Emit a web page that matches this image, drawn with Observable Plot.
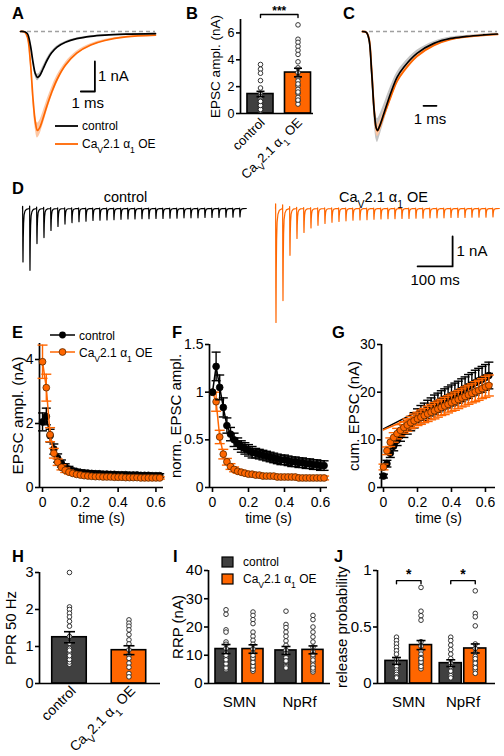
<!DOCTYPE html>
<html><head><meta charset="utf-8">
<script src="https://cdn.jsdelivr.net/npm/d3@7"></script>
<script src="https://cdn.jsdelivr.net/npm/@observablehq/plot@0.6"></script>
<style>
html,body{margin:0;padding:0;background:#fff;}
#root{position:relative;width:504px;height:756px;overflow:hidden;font-family:"Liberation Sans",Arial,sans-serif;}
</style></head><body><div id="root"></div>
<script>
// ---------------- DATA ----------------
const groups = ["control", "Ca_V2.1 α_1 OE"];
const regions = ["SMN", "NpRf"];
const stimTimes = [0,0.02,0.04,0.06,0.08,0.1,0.12,0.14,0.16,0.18,0.2,0.22,0.24,0.26,0.28,0.3,0.32,0.34,0.36,0.38,0.4,0.42,0.44,0.46,0.48,0.5,0.52,0.54,0.56,0.58,0.6,0.62];
const timeTicks = [0, 0.2, 0.4, 0.6];

// A: average EPSC (ms, nA)
const aTime = [0,0.3,0.5,0.7,0.9,1.05,1.2,1.35,1.6,1.9,2.2,2.6,3.2,4,5,6,7.5,9.6];
const aCtrl = [0,-0.01,-0.08,-0.45,-1.05,-1.4,-1.53,-1.48,-1.25,-0.95,-0.72,-0.52,-0.36,-0.24,-0.16,-0.12,-0.09,-0.07];
const aCtrlSem = [0,0,0.01,0.04,0.08,0.1,0.11,0.1,0.09,0.07,0.05,0.04,0.03,0.02,0.015,0.01,0.01,0.01];
const aOE = [0,-0.02,-0.2,-1.0,-2.3,-3.0,-3.3,-3.22,-2.9,-2.45,-2.05,-1.6,-1.12,-0.72,-0.45,-0.3,-0.18,-0.12];
const aOESem = [0,0,0.02,0.1,0.2,0.24,0.25,0.24,0.22,0.19,0.16,0.13,0.09,0.06,0.04,0.03,0.02,0.02];

// B: EPSC amplitude (nA)
const bMeans = [1.45, 3.05];
const bSem = [0.2, 0.32];
const bCtrlPts = [3.65,3.3,3.0,2.45,1.9,1.45,1.25,1.1,0.95,0.8,0.65,0.5,0.35,0.2,0.3,0.6,0.9];
const bOEPts = [6.6,5.53,5.3,5.0,4.7,4.4,3.85,3.4,3.05,2.7,2.43,2.06,1.8,1.5,1.2,0.95,0.7,1.0,1.6,2.2];

// C: normalized EPSC
const cTime = [0,0.3,0.5,0.7,0.9,1.05,1.15,1.3,1.64,2.15,2.67,3.18,4.2,5.5,6.8,8.0,9.3,10.4];
const cCtrl = [0,-0.01,-0.08,-0.4,-0.8,-0.97,-1.0,-0.96,-0.83,-0.63,-0.46,-0.36,-0.22,-0.12,-0.07,-0.05,-0.035,-0.025];
const cCtrlSem = [0,0,0.02,0.06,0.1,0.12,0.12,0.11,0.09,0.07,0.05,0.04,0.03,0.02,0.015,0.01,0.01,0.01];
const cOE = [0,-0.01,-0.07,-0.38,-0.79,-0.97,-1.0,-0.97,-0.85,-0.67,-0.5,-0.4,-0.25,-0.14,-0.08,-0.055,-0.04,-0.03];
const cOESem = [0,0,0.01,0.03,0.05,0.06,0.06,0.06,0.05,0.04,0.03,0.02,0.02,0.01,0.01,0.01,0.01,0.01];

// D: example 50 Hz trains (peak amplitudes, nA) and EPSC waveform (ms, normalized)
const dCtrlAmps = [1.78,2.06,1.17,0.97,0.73,0.6,0.52,0.47,0.44,0.42,0.4,0.39,0.38,0.37,0.36,0.35,0.35,0.34,0.34,0.33,0.33,0.32,0.32,0.31,0.31,0.31,0.3,0.3,0.3,0.29,0.29,0.28];
const dOEAmps = [3.8,3.07,1.56,1.0,0.8,0.65,0.56,0.5,0.46,0.43,0.41,0.39,0.38,0.37,0.36,0.35,0.34,0.34,0.33,0.33,0.32,0.32,0.31,0.31,0.31,0.3,0.3,0.3,0.29,0.29,0.29,0.28];
const epscT = [0,0.4,0.9,1.4,2.2,3.2,4.6,7,11,19.5];
const epscV = [0,0.04,-0.7,-1,-0.55,-0.28,-0.12,-0.05,-0.015,0];

// E: EPSC amplitude during train (nA)
const eCtrl = [2.05,2.22,1.62,1.2,0.92,0.75,0.64,0.57,0.52,0.49,0.47,0.46,0.45,0.44,0.43,0.43,0.42,0.42,0.41,0.41,0.40,0.40,0.40,0.39,0.39,0.39,0.38,0.38,0.38,0.37,0.37,0.37];
const eCtrlSem = [0.28,0.26,0.2,0.16,0.13,0.11,0.1,0.09,0.08,0.08,0.07,0.07,0.07,0.07,0.07,0.06,0.06,0.06,0.06,0.06,0.06,0.06,0.06,0.06,0.06,0.06,0.06,0.06,0.06,0.06,0.06,0.06];
const eOE = [3.93,3.12,1.65,1.07,0.79,0.63,0.54,0.48,0.44,0.41,0.39,0.37,0.36,0.35,0.34,0.34,0.33,0.33,0.33,0.32,0.32,0.32,0.31,0.31,0.31,0.31,0.30,0.30,0.30,0.30,0.30,0.30];
const eOESem = [0.52,0.42,0.22,0.15,0.1,0.08,0.07,0.06,0.05,0.05,0.04,0.04,0.04,0.04,0.04,0.04,0.04,0.04,0.04,0.04,0.04,0.04,0.04,0.04,0.04,0.04,0.04,0.04,0.04,0.04,0.04,0.04];

// F: normalized EPSC amplitude
const fCtrl = [1.0,1.27,1.05,0.84,0.65,0.56,0.5,0.46,0.43,0.41,0.39,0.37,0.36,0.35,0.34,0.33,0.32,0.31,0.30,0.29,0.29,0.28,0.27,0.27,0.26,0.26,0.25,0.25,0.24,0.24,0.23,0.23];
const fCtrlSem = [0,0.15,0.13,0.1,0.08,0.07,0.07,0.06,0.06,0.06,0.06,0.06,0.05,0.05,0.05,0.05,0.05,0.05,0.05,0.05,0.05,0.05,0.05,0.05,0.05,0.05,0.05,0.05,0.05,0.05,0.05,0.05];
const fOE = [1.0,0.9,0.53,0.35,0.27,0.22,0.19,0.17,0.16,0.15,0.14,0.14,0.13,0.13,0.12,0.12,0.12,0.12,0.11,0.11,0.11,0.11,0.11,0.11,0.10,0.10,0.10,0.10,0.10,0.10,0.10,0.10];
const fOESem = [0,0.1,0.07,0.05,0.035,0.03,0.025,0.02,0.02,0.02,0.02,0.02,0.02,0.02,0.02,0.02,0.02,0.02,0.02,0.02,0.02,0.02,0.02,0.02,0.02,0.02,0.02,0.02,0.02,0.02,0.02,0.02];

// G: cumulative EPSC (nA) and back-extrapolated linear fits
const gCtrl = [2.4,5.0,7.2,8.7,9.9,10.9,11.8,12.6,13.4,14.1,14.8,15.4,15.9,16.4,16.9,17.4,17.8,18.2,18.6,18.9,19.3,19.6,20.0,20.4,20.8,21.2,21.6,22.0,22.4,22.7,23.1,23.5];
const gCtrlSem = [0.4,0.7,0.9,1.0,1.1,1.2,1.3,1.4,1.5,1.6,1.7,1.8,1.8,1.9,1.9,2.0,2.0,2.1,2.1,2.2,2.2,2.3,2.3,2.4,2.4,2.5,2.5,2.6,2.6,2.7,2.7,2.8];
const gOE = [4.3,7.7,9.5,10.5,11.3,12.0,12.6,13.1,13.6,14.0,14.4,14.75,15.1,15.45,15.8,16.1,16.45,16.8,17.1,17.45,17.8,18.1,18.45,18.8,19.1,19.45,19.75,20.1,20.4,20.75,21.1,21.4];
const gOESem = [0.6,0.8,0.9,1.0,1.1,1.2,1.2,1.3,1.3,1.4,1.4,1.5,1.5,1.6,1.6,1.7,1.7,1.7,1.8,1.8,1.8,1.9,1.9,1.9,2.0,2.0,2.0,2.1,2.1,2.1,2.2,2.2];
const gFitIntercept = [12.3, 12.1];
const gFitSlope = [18.2, 15.0];
const gFitRange = [0, 0.64];

// H: paired-pulse ratio
const hMeans = [1.25, 0.9];
const hSem = [0.15, 0.12];
const hCtrlPts = [3.0,2.07,2.0,1.9,1.8,1.68,1.55,1.27,1.09,0.95,0.82,0.71,0.61,0.52,0.58,0.65,0.75,0.9];
const hOEPts = [1.72,1.63,1.55,1.45,1.32,1.18,1.07,0.91,0.77,0.68,0.55,0.44,0.27,0.18];

// I: RRP (nA)   order: SMN ctrl, SMN OE, NpRf ctrl, NpRf OE
const iMeans = [12.2, 12.2, 11.7, 11.9];
const iSem = [1.6, 1.5, 1.4, 1.4];
const iSMNCtrlPts = [26.1,24.5,19.0,18.2,14.7,13.9,12.4,10.8,9.2,7.6,6.1,4.9,5.5,7.0,8.4,10.0];
const iSMNOEPts = [25.3,24.1,22.6,21.2,18.2,16.7,15.3,13.9,12.2,10.8,9.4,8.2,6.8,5.6,4.4,5.0,6.2,7.5,9.0,10.0];
const iNpRfCtrlPts = [25.6,20.9,19.8,18.2,16.7,15.1,13.5,11.8,10,8.5,7.1,5.9,6.5,7.8,9.2,10.6,6.0,5.5,8.0];
const iNpRfOEPts = [24.1,22.6,20.0,18.2,16.5,14.7,12.9,11.2,9.4,7.6,5.9,4.1,4.8,6.5,8.3,10.2,5.5];

// J: release probability
const jMeans = [0.2, 0.34, 0.18, 0.31];
const jSem = [0.03, 0.04, 0.03, 0.04];
const jSMNCtrlPts = [0.41,0.38,0.35,0.32,0.29,0.26,0.22,0.18,0.15,0.12,0.1,0.08,0.06,0.05];
const jSMNOEPts = [0.85,0.64,0.6,0.56,0.37,0.33,0.29,0.26,0.23,0.2,0.17,0.13,0.15,0.19,0.22];
const jNpRfCtrlPts = [0.41,0.38,0.34,0.3,0.26,0.22,0.18,0.13,0.09,0.06,0.07,0.11,0.15,0.05];
const jNpRfOEPts = [0.82,0.62,0.59,0.51,0.35,0.31,0.27,0.24,0.2,0.16,0.12,0.09,0.14,0.18,0.22];

// significance annotations
const bSig = [{a: 0, b: 1, y: 7.37, label: "***"}];
const jSig = [{g: 0, y: 0.91, label: "*"}, {g: 1, y: 0.91, label: "*"}];

// scale bars
const sbA = {t: 5.29, a: -2, dt: 1, da: 1};
const sbC = {t: 5.7, a: -0.75, dt: 1};
const sbD = {t: 506, a: -1.93, dt: 100, da: 1};

// ---------------- HELPERS ----------------
const FONT = '"Liberation Sans", Arial, Helvetica, sans-serif';
const ORANGE = "#ff6600";
const DARK = "#404040";
const NS = "http://www.w3.org/2000/svg";
const root = document.getElementById("root");
const capSymbol = {draw(ctx, size) { const w = Math.sqrt(size / Math.PI); ctx.moveTo(-w, 0); ctx.lineTo(w, 0); }};

function subify(node) {
  node.querySelectorAll("text, tspan").forEach(el => {
    if (el.children.length) return;
    const s = el.textContent;
    if (!s || s.indexOf("_") < 0) return;
    el.textContent = "";
    s.split(/(_.)/).filter(p => p.length).forEach(p => {
      const ts = document.createElementNS(NS, "tspan");
      if (p[0] === "_") { ts.textContent = p.slice(1); ts.setAttribute("font-size", "72%"); ts.setAttribute("baseline-shift", "sub"); }
      else ts.textContent = p;
      el.appendChild(ts);
    });
  });
}

function panel(frame, pad, opts) {
  const [x0, y0, x1, y1] = frame, [l, t, r, b] = pad;
  const svg = Plot.plot({
    ...opts,
    x: {axis: null, ...opts.x}, y: {axis: null, ...opts.y},
    width: x1 - x0 + l + r, height: y1 - y0 + t + b,
    marginLeft: l, marginTop: t, marginRight: r, marginBottom: b,
    style: {fontFamily: FONT, fontSize: "14px", color: "black", background: "none", overflow: "visible"}
  });
  svg.style.position = "absolute";
  svg.style.left = (x0 - l) + "px";
  svg.style.top = (y0 - t) + "px";
  svg.style.maxWidth = "none";
  subify(svg);
  root.appendChild(svg);
  return svg;
}

const fmt = d => String(d);
const axY = (ticks, fs) => Plot.axisY({ticks, tickFormat: fmt, tickSize: 4, tickPadding: 2, strokeWidth: 1.6, fontSize: fs, label: null});
const axX = (ticks, fs) => Plot.axisX({ticks, tickFormat: fmt, tickSize: 5, tickPadding: 5, strokeWidth: 1.6, fontSize: fs, label: null});
const axisLines = xd => [Plot.ruleX([xd[0]], {strokeWidth: 1.7}), Plot.ruleY([0], {strokeWidth: 1.7})];
const yLabel = (s, dx, fs) => Plot.text([s], {frameAnchor: "left", rotate: -90, textAnchor: "middle", lineAnchor: "middle", dx, fontSize: fs});
const xLabel = (s, dy, fs) => Plot.text([s], {frameAnchor: "bottom", textAnchor: "middle", lineAnchor: "middle", dy, fontSize: fs});

function tsData(means, sems) { return stimTimes.map((t, i) => ({t, m: means[i], s: sems[i]})); }
function tsMarks(data, color, dotFill, dotStroke, withLine, capR) {
  const e = data.filter(d => d.s > 0);
  const m = [];
  if (withLine) m.push(Plot.line(data, {x: "t", y: "m", stroke: color, strokeWidth: 1.5}));
  m.push(Plot.ruleX(e, {x: "t", y1: d => d.m - d.s, y2: d => d.m + d.s, stroke: color, strokeWidth: 1.4}));
  m.push(Plot.dot(e, {x: "t", y: d => d.m + d.s, symbol: capSymbol, r: capR, stroke: color, fill: "none", strokeWidth: 1.4}));
  m.push(Plot.dot(e, {x: "t", y: d => d.m - d.s, symbol: capSymbol, r: capR, stroke: color, fill: "none", strokeWidth: 1.4}));
  m.push(Plot.dot(data, {x: "t", y: "m", r: 3.4, fill: dotFill, stroke: dotStroke, strokeWidth: 0.8}));
  return m;
}

function barMarks(bars, pts, hw, capR) {
  return [
    Plot.rect(bars.filter(d => d.c === 0), {x1: d => d.x - hw, x2: d => d.x + hw, y1: 0, y2: "mean", fill: DARK, stroke: "black", strokeWidth: 1.6}),
    Plot.rect(bars.filter(d => d.c === 1), {x1: d => d.x - hw, x2: d => d.x + hw, y1: 0, y2: "mean", fill: ORANGE, stroke: "black", strokeWidth: 1.6}),
    Plot.dot(pts, {x: "x", y: "v", r: 2.3, fill: "white", stroke: "#222", strokeWidth: 0.9}),
    Plot.ruleX(bars, {x: "x", y1: d => d.mean - d.sem, y2: d => d.mean + d.sem, strokeWidth: 1.6}),
    Plot.dot(bars, {x: "x", y: d => d.mean + d.sem, symbol: capSymbol, r: capR, stroke: "black", fill: "none", strokeWidth: 1.6}),
    Plot.dot(bars, {x: "x", y: d => d.mean - d.sem, symbol: capSymbol, r: capR, stroke: "black", fill: "none", strokeWidth: 1.6})
  ];
}
function ptsAt(x, vals) { return vals.map(v => ({x, v})); }
function bracket(id, xa, xb, y, tick) { return [{id, x: xa, y: y - tick}, {id, x: xa, y}, {id, x: xb, y}, {id, x: xb, y: y - tick}]; }
function traceData(ts, vs, sems) { return ts.map((t, i) => ({t, v: vs[i], s: sems[i]})); }
function trainTrace(amps) {
  const out = [];
  amps.forEach((a, i) => epscT.forEach((tt, j) => out.push({t: stimTimes[i] * 1000 + tt, v: a * epscV[j]})));
  return out;
}

// ---------------- A ----------------
{
  const ctrl = traceData(aTime, aCtrl, aCtrlSem), oe = traceData(aTime, aOE, aOESem);
  const sb = [{x: sbA.t - sbA.dt, y: sbA.a}, {x: sbA.t, y: sbA.a}, {x: sbA.t, y: sbA.a + sbA.da}];
  panel([20, 31, 155, 133], [20, 20, 20, 20], {
    x: {domain: [0, 9.6]}, y: {domain: [-3.4, 0]},
    marks: [
      Plot.ruleY([0], {stroke: "#a0a0a0", strokeWidth: 1.3, strokeDasharray: "4,3"}),
      Plot.areaY(oe, {x: "t", y1: d => d.v - d.s, y2: d => d.v + d.s, fill: "#fdc7a4", curve: "catmull-rom"}),
      Plot.areaY(ctrl, {x: "t", y1: d => d.v - d.s, y2: d => d.v + d.s, fill: "#bdbdbd", curve: "catmull-rom"}),
      Plot.line(oe, {x: "t", y: "v", stroke: ORANGE, strokeWidth: 1.7, curve: "catmull-rom"}),
      Plot.line(ctrl, {x: "t", y: "v", stroke: "black", strokeWidth: 1.7, curve: "catmull-rom"}),
      Plot.line(sb, {x: "x", y: "y", stroke: "black", strokeWidth: 1.8}),
      Plot.text([sbA], {x: d => d.t, y: d => d.a + d.da / 2, text: () => "1 nA", textAnchor: "start", dx: 3, fontSize: 15}),
      Plot.text([sbA], {x: d => d.t - d.dt / 2, y: d => d.a, text: () => "1 ms", dy: 12, fontSize: 15})
    ]
  });
}

// ---------------- B ----------------
{
  const bars = bMeans.map((m, i) => ({x: i, c: i, mean: m, sem: bSem[i]}));
  const pts = [...ptsAt(0, bCtrlPts), ...ptsAt(1, bOEPts)];
  const br = bSig.flatMap((s, k) => bracket(k, s.a, s.b, s.y, 0.22));
  panel([240, 19, 313, 113], [55, 19, 10, 75], {
    x: {domain: [-0.533, 1.413]}, y: {domain: [0, 7]},
    marks: [
      ...barMarks(bars, pts, 0.347, 4),
      ...axisLines([-0.533]),
      axY([0, 2, 4, 6], 12.5),
      yLabel("EPSC ampl. (nA)", -25, 13.5),
      Plot.text(groups, {x: (d, i) => i, y: 0, rotate: -45, textAnchor: "end", dx: 2, dy: 7, fontSize: 13}),
      Plot.line(br, {x: "x", y: "y", z: "id", strokeWidth: 1.4}),
      Plot.text(bSig, {x: d => (d.a + d.b) / 2, y: "y", text: "label", dy: -3, fontSize: 12, fontWeight: "bold"})
    ]
  });
}

// ---------------- C ----------------
{
  const ctrl = traceData(cTime, cCtrl, cCtrlSem), oe = traceData(cTime, cOE, cOESem);
  const sb = [{x: sbC.t - sbC.dt, y: sbC.a}, {x: sbC.t, y: sbC.a}];
  panel([362, 31, 497, 143], [10, 15, 7, 10], {
    x: {domain: [0, 10.4]}, y: {domain: [-1.13, 0]},
    marks: [
      Plot.ruleY([0], {stroke: "#a0a0a0", strokeWidth: 1.3, strokeDasharray: "4,3"}),
      Plot.areaY(ctrl, {x: "t", y1: d => d.v - d.s, y2: d => d.v + d.s, fill: "#c4c4c4", curve: "catmull-rom"}),
      Plot.areaY(oe, {x: "t", y1: d => d.v - d.s, y2: d => d.v + d.s, fill: "#fdc7a4", curve: "catmull-rom"}),
      Plot.line(oe, {x: "t", y: "v", stroke: ORANGE, strokeWidth: 1.8, curve: "catmull-rom"}),
      Plot.line(ctrl, {x: "t", y: "v", stroke: "black", strokeWidth: 1.7, curve: "catmull-rom"}),
      Plot.line(sb, {x: "x", y: "y", stroke: "black", strokeWidth: 1.8}),
      Plot.text([sbC], {x: d => d.t - d.dt / 2, y: d => d.a, text: () => "1 ms", dy: 13, fontSize: 15})
    ]
  });
}

// ---------------- D ----------------
{
  const ctrl = trainTrace(dCtrlAmps), oe = trainTrace(dOEAmps);
  panel([22, 205, 246, 328], [10, 20, 10, 5], {
    x: {domain: [0, 640]}, y: {domain: [-4, 0.1]},
    marks: [
      Plot.line(ctrl, {x: "t", y: "v", stroke: "black", strokeWidth: 1.2}),
      Plot.text([groups[0]], {frameAnchor: "top", lineAnchor: "middle", dx: -9, dy: -8, fontSize: 14.5})
    ]
  });
  const sb = [{x: sbD.t - sbD.dt, y: sbD.a}, {x: sbD.t, y: sbD.a}, {x: sbD.t, y: sbD.a + sbD.da}];
  panel([275, 205, 499, 328], [10, 20, 5, 5], {
    x: {domain: [0, 640]}, y: {domain: [-4, 0.1]},
    marks: [
      Plot.line(oe, {x: "t", y: "v", stroke: ORANGE, strokeWidth: 1.2}),
      Plot.text([groups[1]], {frameAnchor: "top", lineAnchor: "middle", dx: -4, dy: -8, fontSize: 14.5}),
      Plot.line(sb, {x: "x", y: "y", stroke: "black", strokeWidth: 1.8}),
      Plot.text([sbD], {x: d => d.t, y: d => d.a + d.da / 2, text: () => "1 nA", textAnchor: "start", dx: 4, fontSize: 15}),
      Plot.text([sbD], {x: d => d.t - d.dt / 2, y: d => d.a, text: () => "100 ms", dy: 14, fontSize: 15})
    ]
  });
}

// ---------------- E ----------------
{
  const xd = [-0.016, 0.64];
  panel([39, 343, 163, 487], [40, 20, 12, 40], {
    x: {domain: xd}, y: {domain: [0, 4.5]},
    marks: [
      ...axisLines(xd), axX(timeTicks, 14), axY([0, 2, 4], 14),
      xLabel("time (s)", 31, 14),
      yLabel("EPSC ampl. (nA)", -21, 15.5),
      ...tsMarks(tsData(eCtrl, eCtrlSem), "black", "black", "black", true, 4.5),
      ...tsMarks(tsData(eOE, eOESem), ORANGE, ORANGE, "#5a2a00", true, 5)
    ]
  });
}

// ---------------- F ----------------
{
  const xd = [-0.0167, 0.639];
  panel([209, 344, 327, 487], [45, 20, 12, 40], {
    x: {domain: xd}, y: {domain: [0, 1.5]},
    marks: [
      ...axisLines(xd), axX(timeTicks, 14), axY([0, 0.5, 1, 1.5], 14),
      xLabel("time (s)", 31, 14),
      yLabel("norm. EPSC ampl.", -33, 15),
      ...tsMarks(tsData(fOE, fOESem), ORANGE, ORANGE, "#5a2a00", true, 5),
      ...tsMarks(tsData(fCtrl, fCtrlSem), "black", "black", "black", true, 4.5)
    ]
  });
}

// ---------------- G ----------------
{
  const xd = [-0.0118, 0.659];
  const fits = gFitIntercept.flatMap((b, k) => gFitRange.map(t => ({k, t, v: b + gFitSlope[k] * t})));
  panel([381, 344, 495, 487], [45, 20, 9, 40], {
    x: {domain: xd}, y: {domain: [0, 30]},
    marks: [
      ...axisLines(xd), axX(timeTicks, 14), axY([0, 10, 20, 30], 14),
      xLabel("time (s)", 31, 14),
      yLabel("cum. EPSC (nA)", -27, 15),
      ...tsMarks(tsData(gCtrl, gCtrlSem), "black", "black", "black", false, 4.5),
      Plot.line(fits.filter(d => d.k === 0), {x: "t", y: "v", stroke: "black", strokeWidth: 1.6}),
      Plot.line(fits.filter(d => d.k === 1), {x: "t", y: "v", stroke: ORANGE, strokeWidth: 1.6}),
      ...tsMarks(tsData(gOE, gOESem), ORANGE, ORANGE, "#5a2a00", false, 5)
    ]
  });
}

// ---------------- H ----------------
{
  const bars = hMeans.map((m, i) => ({x: i, c: i, mean: m, sem: hSem[i]}));
  const pts = [...ptsAt(0, hCtrlPts), ...ptsAt(1, hOEPts)];
  panel([39, 572, 160, 683], [39, 10, 10, 70], {
    x: {domain: [-0.504, 1.53]}, y: {domain: [0, 3]},
    marks: [
      ...barMarks(bars, pts, 0.29, 5.5),
      ...axisLines([-0.504]),
      axY([0, 1, 2, 3], 14.5),
      yLabel("PPR 50 Hz", -28, 15),
      Plot.text(groups, {x: (d, i) => i, y: 0, rotate: -45, textAnchor: "end", dx: 4, dy: 5, fontSize: 14})
    ]
  });
}

// ---------------- I ----------------
{
  const off = 0.225;
  const bars = iMeans.map((m, i) => ({x: Math.floor(i / 2) + (i % 2 ? off : -off), c: i % 2, mean: m, sem: iSem[i]}));
  const pts = [...ptsAt(-off, iSMNCtrlPts), ...ptsAt(off, iSMNOEPts), ...ptsAt(1 - off, iNpRfCtrlPts), ...ptsAt(1 + off, iNpRfOEPts)];
  panel([208, 570, 330, 683], [40, 10, 10, 30], {
    x: {domain: [-0.517, 1.517]}, y: {domain: [0, 40]},
    marks: [
      ...barMarks(bars, pts, 0.175, 4.5),
      ...axisLines([-0.517]),
      axY([0, 10, 20, 30, 40], 15),
      yLabel("RRP (nA)", -30, 15),
      Plot.text(regions, {x: (d, i) => i, y: 0, dy: 19, fontSize: 15})
    ]
  });
}

// ---------------- J ----------------
{
  const off = 0.226;
  const bars = jMeans.map((m, i) => ({x: Math.floor(i / 2) + (i % 2 ? off : -off), c: i % 2, mean: m, sem: jSem[i]}));
  const pts = [...ptsAt(-off, jSMNCtrlPts), ...ptsAt(off, jSMNOEPts), ...ptsAt(1 - off, jNpRfCtrlPts), ...ptsAt(1 + off, jNpRfOEPts)];
  const br = jSig.flatMap((s, k) => bracket(k, s.g - off, s.g + off, s.y, 0.027));
  panel([377, 570, 495, 683], [45, 15, 8, 30], {
    x: {domain: [-0.576, 1.599]}, y: {domain: [0, 1]},
    marks: [
      ...barMarks(bars, pts, 0.203, 4.5),
      ...axisLines([-0.576]),
      axY([0, 0.5, 1], 15),
      yLabel("release probability", -35, 15),
      Plot.text(regions, {x: (d, i) => i, y: 0, dy: 19, fontSize: 15}),
      Plot.line(br, {x: "x", y: "y", z: "id", strokeWidth: 1.4}),
      Plot.text(jSig, {x: "g", y: "y", text: "label", dy: -6, fontSize: 14, fontWeight: "bold"})
    ]
  });
}

// ---------------- overlay: panel letters + legends ----------------
{
  const ov = document.createElementNS(NS, "svg");
  ov.setAttribute("width", 504); ov.setAttribute("height", 756);
  ov.style.cssText = "position:absolute;left:0;top:0;pointer-events:none;font-family:" + FONT;
  const el = (tag, attrs) => { const e = document.createElementNS(NS, tag); for (const k in attrs) e.setAttribute(k, attrs[k]); ov.appendChild(e); return e; };
  const txt = (s, x, y, size, bold) => { const e = el("text", {x, y, "font-size": size, "font-weight": bold ? "bold" : "normal", fill: "black"}); e.textContent = s; };
  [["A",12,19],["B",186,19],["C",343,19],["D",12,194],["E",12,338],["F",172,338],["G",332,338],["H",12,562],["I",173,562],["J",334,562]]
    .forEach(([s, x, y]) => txt(s, x, y, 16.5, true));
  // A legend
  el("line", {x1: 55, x2: 78, y1: 126, y2: 126, stroke: "black", "stroke-width": 1.8});
  txt(groups[0], 82, 130, 12);
  el("line", {x1: 55, x2: 78, y1: 144, y2: 144, stroke: ORANGE, "stroke-width": 1.8});
  txt(groups[1], 82, 148, 12);
  // E legend
  el("line", {x1: 50, x2: 75, y1: 335, y2: 335, stroke: "black", "stroke-width": 1.5});
  el("circle", {cx: 62.5, cy: 335, r: 3.4, fill: "black"});
  txt(groups[0], 79, 340, 12);
  el("line", {x1: 50, x2: 75, y1: 352, y2: 352, stroke: ORANGE, "stroke-width": 1.5});
  el("circle", {cx: 62.5, cy: 352, r: 3.4, fill: ORANGE, stroke: "#5a2a00", "stroke-width": 0.8});
  txt(groups[1], 79, 357, 12);
  // I legend
  el("rect", {x: 222, y: 557, width: 11, height: 10, fill: DARK, stroke: "black", "stroke-width": 1.2});
  txt(groups[0], 243, 566, 12);
  el("rect", {x: 222, y: 574, width: 11, height: 10, fill: ORANGE, stroke: "black", "stroke-width": 1.2});
  txt(groups[1], 243, 583, 12);
  subify(ov);
  root.appendChild(ov);
}
</script></body></html>
